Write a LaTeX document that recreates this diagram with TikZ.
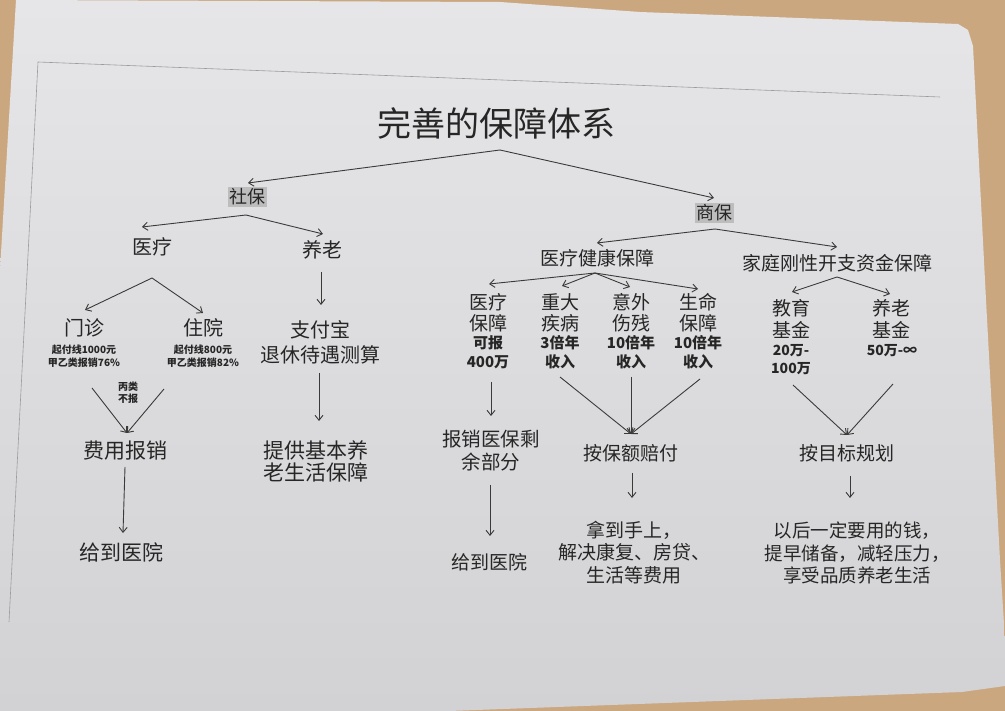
\documentclass[tikz,border=0pt]{standalone}
\usepackage{fontspec}
\setmainfont{Noto Sans CJK SC}
\usetikzlibrary{arrows.meta}

\definecolor{wood}{HTML}{CBA77F}
\definecolor{paperTop}{HTML}{E6E6E8}
\definecolor{paperBot}{HTML}{D2D2D4}
\definecolor{ink}{HTML}{262626}
\definecolor{wire}{HTML}{3A3A3A}
\definecolor{hl}{HTML}{BDBDBD}
\definecolor{frameln}{HTML}{9C9CA0}

\newcommand{\fsz}[2]{\fontsize{#1}{#2}\selectfont}

\tikzset{
  lbl/.style={inner sep=0pt, align=center, text=ink},
  titlebox/.style={lbl, font=\fsz{34}{40}},
  tagbox/.style={lbl, font=\fsz{18}{22}, fill=hl, inner sep=1.5pt},
  bigtxt/.style={lbl, font=\fsz{20}{25}},
  midtxt/.style={lbl, font=\fsz{19}{22}},
  smalltxt/.style={lbl, font=\bfseries\fsz{15}{19}},
  tinytxt/.style={lbl, font=\bfseries\fsz{10}{13}},
  arr/.style={draw=wire, line width=0.9pt, -{Straight Barb[length=5pt,width=8pt]}},
}

\begin{document}
\begin{tikzpicture}[x=1pt, y=-1pt]
\useasboundingbox (0,0) rectangle (1005,711);

% table and sheet of paper
\fill[wood] (0,0) rectangle (1005,711);
\shade[top color=paperTop, bottom color=paperBot]
  (16,0) -- (500,2) -- (640,12) -- (958,24) -- (968,30) -- (973,46)
  -- (986,300) -- (1000,560) -- (1005,640) -- (1005,686) -- (962,692)
  -- (449,711) -- (0,711) -- (0,270) -- cycle;
% printed page frame
\draw[frameln, line width=0.6pt] (9,622) -- (38,62) -- (940,97);

% ---------- nodes ----------
\node[titlebox] (T) at (496,123) {完善的保障体系};

\node[tagbox] (SB)  at (247,197) {社保};
\node[tagbox] (ShB) at (714,213) {商保};

% social insurance branch
\node[bigtxt] (YL)   at (152,247) {医疗};
\node[bigtxt] (YLao) at (322,250) {养老};
\node[bigtxt] (MZ)   at (84,328)  {门诊};
\node[bigtxt] (ZY)   at (203,328) {住院};
\node[tinytxt] (MZs) at (84,356.5)  {起付线1000元\\甲乙类报销76\%};
\node[tinytxt] (ZYs) at (203,356.5) {起付线800元\\甲乙类报销82\%};
\node[tinytxt, font=\bfseries\fsz{10}{12}] (BL) at (128,393) {丙类\\不报};
\node[lbl, font=\fsz{21}{24}] (FY)  at (125,451) {费用报销};
\node[lbl, font=\fsz{21}{24}] (GD1) at (121,552) {给到医院};
\node[lbl, font=\fsz{20}{25}] (ZFB) at (320,342) {支付宝\\退休待遇测算};
\node[lbl, font=\fsz{21}{22}] (TG)  at (316,461) {提供基本养\\老生活保障};

% commercial insurance branch
\node[midtxt] (YJ) at (597,258) {医疗健康保障};
\node[midtxt] (JT) at (837,263) {家庭刚性开支资金保障};

\node[lbl, font=\fsz{19}{21}] (C1) at (488,312.5) {医疗\\保障};
\node[lbl, font=\fsz{19}{21}] (C2) at (560,312.5) {重大\\疾病};
\node[lbl, font=\fsz{19}{21}] (C3) at (631,312.5) {意外\\伤残};
\node[lbl, font=\fsz{19}{21}] (C4) at (698,312.5) {生命\\保障};
\node[smalltxt] (C1s) at (488,352.5) {可报\\400万};
\node[smalltxt] (C2s) at (560,352.5) {3倍年\\收入};
\node[smalltxt] (C3s) at (631,352.5) {10倍年\\收入};
\node[smalltxt] (C4s) at (698,352.5) {10倍年\\收入};

\node[lbl, font=\fsz{19}{22}] (E1) at (791,319) {教育\\基金};
\node[lbl, font=\fsz{19}{22}] (E2) at (891,319) {养老\\基金};
\node[smalltxt, font=\bfseries\fsz{14}{18}] (E1s) at (791,360) {20万-\\100万};
\node[smalltxt, font=\bfseries\fsz{14}{18}] (E2s) at (892,351) {50万-∞};

\node[lbl, font=\fsz{19.5}{23}] (BX) at (491,450.5) {报销医保剩\\余部分};
\node[midtxt] (GD2) at (489,562) {给到医院};
\node[midtxt] (AB)  at (631,453) {按保额赔付};
\node[lbl, font=\fsz{19}{22.5}] (NS) at (634,552.5) {拿到手上，\\解决康复、房贷、\\生活等费用};
\node[midtxt] (ML)  at (847,453) {按目标规划};
\node[lbl, font=\fsz{18.5}{22.5}] (YH) at (857,553) {以后一定要用的钱，\\提早储备，减轻压力，\\享受品质养老生活};

% ---------- branching points ----------
\coordinate (A0) at ([shift={(4,27)}]T.center);
\coordinate (A1) at ([shift={(-1,18)}]SB.center);
\coordinate (A2) at ([shift={(0,31)}]YL.center);
\coordinate (A3) at ([shift={(1,16)}]ShB.center);
\coordinate (A4) at ([shift={(-2,15)}]YJ.center);
\coordinate (A5) at ([shift={(0,14)}]JT.center);

% ---------- connectors ----------
\draw[arr] (A0) -- ([shift={(1,-14)}]SB.center);
\draw[arr] (A0) -- ([shift={(0,-15)}]ShB.center);

\draw[arr] (A1) -- ([shift={(-10,-20)}]YL.center);
\draw[arr] (A1) -- ([shift={(1,-16)}]YLao.center);

\draw[arr] (A2) -- ([shift={(1,-18)}]MZ.center);
\draw[arr] (A2) -- ([shift={(0,-15)}]ZY.center);

\draw[arr] ([shift={(8,31.5)}]MZs.center) -- ([shift={(2,-18)}]FY.center);
\draw[arr] ([shift={(-39,32.5)}]ZYs.center) -- ([shift={(2,-18)}]FY.center);
\draw[arr] ([shift={(0,16)}]FY.center) -- ([shift={(2,-19)}]GD1.center);

\draw[arr] ([shift={(-1,22)}]YLao.center) -- ([shift={(1,-37)}]ZFB.center);
\draw[arr] ([shift={(-1,31)}]ZFB.center) -- ([shift={(3,-40)}]TG.center);

\draw[arr] (A3) -- ([shift={(0,-15)}]YJ.center);
\draw[arr] (A3) -- ([shift={(0,-16)}]JT.center);

\draw[arr] (A4) -- ([shift={(1,-28.5)}]C1.center);
\draw[arr] (A4) -- ([shift={(2,-26.5)}]C2.center);
\draw[arr] (A4) -- ([shift={(-1,-25.5)}]C3.center);
\draw[arr] (A4) -- ([shift={(0,-23.5)}]C4.center);

\draw[arr] (A5) -- ([shift={(1,-27)}]E1.center);
\draw[arr] (A5) -- ([shift={(-1,-25)}]E2.center);

\draw[arr] ([shift={(3,29.5)}]C1s.center) -- ([shift={(0,-34.5)}]BX.center);
\draw[arr] ([shift={(-1,34.5)}]BX.center) -- ([shift={(1,-26)}]GD2.center);

\draw[arr] ([shift={(0,24.5)}]C2s.center) -- ([shift={(0,-19)}]AB.center);
\draw[arr] ([shift={(0,24.5)}]C3s.center) -- ([shift={(0,-19)}]AB.center);
\draw[arr] ([shift={(2,26.5)}]C4s.center) -- ([shift={(0,-19)}]AB.center);
\draw[arr] ([shift={(1,20)}]AB.center) -- ([shift={(-2,-54.5)}]NS.center);

\draw[arr] ([shift={(2,25)}]E1s.center) -- ([shift={(0,-18)}]ML.center);
\draw[arr] ([shift={(1,33)}]E2s.center) -- ([shift={(0,-18)}]ML.center);
\draw[arr] ([shift={(3,23)}]ML.center) -- ([shift={(-7,-55)}]YH.center);
\end{tikzpicture}
\end{document}
